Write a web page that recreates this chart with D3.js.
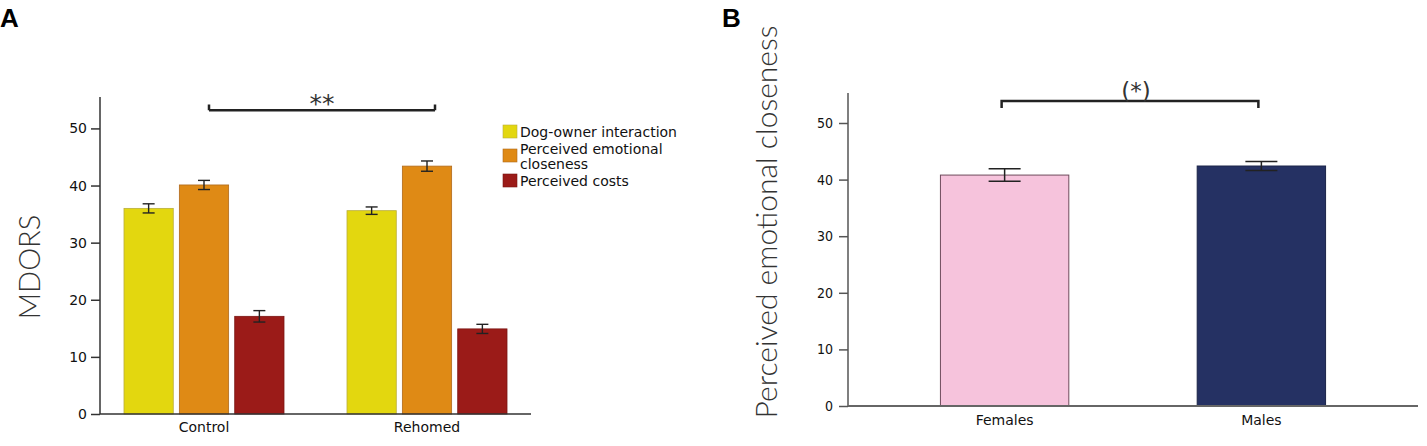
<!DOCTYPE html>
<html>
<head>
<meta charset="utf-8">
<script src="https://cdn.jsdelivr.net/npm/d3@7"></script>
<style>
  body { margin: 0; background: #fff; }
  svg { display: block; font-family: "DejaVu Sans", sans-serif; }
</style>
</head>
<body>
<svg width="1427" height="446"></svg>
<script>
// panel A data
let groupsA = ['Control', 'Rehomed'];
let seriesA = ['Dog-owner interaction', 'Perceived emotional closeness', 'Perceived costs'];
let dogOwner = [36.0, 35.6];
let emotional = [40.1, 43.4];
let costs = [17.1, 14.9];
let dogOwnerErr = [0.8, 0.65];
let emotionalErr = [0.8, 0.9];
let costsErr = [1.0, 0.8];
let ticksA = [0, 10, 20, 30, 40, 50];

// panel B data
let groupsB = ['Females', 'Males'];
let closeness = [40.8, 42.4];
let closenessErr = [1.1, 0.8];
let ticksB = [0, 10, 20, 30, 40, 50];

let colorsA = ['#e3d70f', '#df8a15', '#9b1b18'];
let strokesA = ['#b9ad3c', '#b06a1c', '#7a1512'];
let colorsB = ['#f6c3dc', '#253163'];

let svg = d3.select('svg');

// ---------- panel A ----------
let x0 = d3.scaleBand().domain(groupsA).range([100, 531]).paddingInner(0.2825).paddingOuter(0.1076);
let x1 = d3.scaleBand().domain(seriesA).range([0, x0.bandwidth()]).paddingInner(0.11);
let yA = d3.scaleLinear().domain([0, 55.5]).range([414, 97]);

let rowsA = [];
groupsA.forEach((g, i) => {
  [dogOwner, emotional, costs].forEach((arr, j) => {
    let errs = [dogOwnerErr, emotionalErr, costsErr][j];
    rowsA.push({ group: g, series: seriesA[j], value: arr[i], err: errs[i], k: j });
  });
});

let gA = svg.append('g');

gA.selectAll('rect.bar')
  .data(rowsA)
  .enter()
  .append('rect')
  .attr('class', 'bar')
  .attr('x', d => x0(d.group) + x1(d.series))
  .attr('y', d => yA(d.value))
  .attr('width', x1.bandwidth())
  .attr('height', d => yA(0) - yA(d.value))
  .attr('fill', d => colorsA[d.k])
  .attr('stroke', d => strokesA[d.k])
  .attr('stroke-width', 0.8);

let errA = gA.selectAll('g.err')
  .data(rowsA)
  .enter()
  .append('g')
  .attr('stroke', '#222')
  .attr('stroke-width', 1.4)
  .attr('transform', d => 'translate(' + (x0(d.group) + x1(d.series) + x1.bandwidth() / 2) + ',0)');
errA.append('line').attr('y1', d => yA(d.value + d.err)).attr('y2', d => yA(d.value - d.err));
errA.append('line').attr('x1', -6).attr('x2', 6).attr('y1', d => yA(d.value + d.err)).attr('y2', d => yA(d.value + d.err));
errA.append('line').attr('x1', -6).attr('x2', 6).attr('y1', d => yA(d.value - d.err)).attr('y2', d => yA(d.value - d.err));

let yAxisA = gA.append('g')
  .attr('transform', 'translate(100,0)')
  .call(d3.axisLeft(yA).tickValues(ticksA).tickSize(9).tickPadding(4));
yAxisA.select('.domain').attr('d', 'M0,' + yA(55.5) + 'V' + yA(0)).attr('stroke', '#333').attr('stroke-width', 1.5);
yAxisA.selectAll('.tick line').attr('stroke', '#333').attr('stroke-width', 1.5);
yAxisA.selectAll('.tick text').style('font-family', '"DejaVu Sans", sans-serif').style('font-size', '14px').attr('fill', '#111');

let xAxisA = gA.append('g')
  .attr('transform', 'translate(0,' + yA(0) + ')')
  .call(d3.axisBottom(x0).tickSize(0).tickPadding(8));
xAxisA.select('.domain').attr('d', 'M100,0H531').attr('stroke', '#333').attr('stroke-width', 1.5);
xAxisA.selectAll('.tick text').style('font-family', '"DejaVu Sans", sans-serif').style('font-size', '14px').attr('fill', '#111');

gA.append('text')
  .attr('transform', 'rotate(-90)')
  .attr('x', -267)
  .attr('y', 40)
  .style('text-anchor', 'middle')
  .style('font-family', 'Lato, "Open Sans", sans-serif')
  .style('font-weight', 300)
  .style('font-size', '29px')
  .attr('fill', '#333')
  .text('MDORS');

// significance bracket A
let bxA1 = x0('Control') + x0.bandwidth() / 2 + 5;
let bxA2 = x0('Rehomed') + x0.bandwidth() / 2 + 8;
gA.append('path')
  .attr('d', 'M' + bxA1 + ',' + yA(54.2) + 'V' + yA(53.2) + 'M' + bxA1 + ',' + yA(53.2) + 'H' + bxA2 + 'M' + bxA2 + ',' + yA(53.2) + 'V' + yA(54.2))
  .attr('fill', 'none')
  .attr('stroke', '#222')
  .attr('stroke-width', 2.5);
gA.append('text')
  .attr('x', (bxA1 + bxA2) / 2)
  .attr('y', 112)
  .style('text-anchor', 'middle')
  .style('font-size', '25px')
  .attr('fill', '#333')
  .text('**');

// legend
let legendLines = [['Dog-owner interaction'], ['Perceived emotional', 'closeness'], ['Perceived costs']];
let legendY = [125, 149, 174];
let leg = gA.selectAll('g.leg')
  .data(seriesA)
  .enter()
  .append('g')
  .attr('transform', (d, i) => 'translate(503,' + legendY[i] + ')');
leg.append('rect')
  .attr('width', 14)
  .attr('height', 13)
  .attr('fill', (d, i) => colorsA[i])
  .attr('stroke', (d, i) => strokesA[i])
  .attr('stroke-width', 0.6);
leg.append('text')
  .attr('x', 17)
  .attr('y', (d, i) => 12 - (legendLines[i].length - 1) * 7.5)
  .style('font-size', '14px')
  .attr('fill', '#111')
  .selectAll('tspan')
  .data((d, i) => legendLines[i])
  .enter()
  .append('tspan')
  .attr('x', 17)
  .attr('dy', (d, i) => i === 0 ? 0 : 15)
  .text(d => d);

// ---------- panel B ----------
let xB = d3.scaleBand().domain(groupsB).range([848, 1418]).paddingInner(0.5).paddingOuter(0.36);
let yB = d3.scaleLinear().domain([0, 55.3]).range([406, 93]);

let gB = svg.append('g');

gB.selectAll('rect')
  .data(groupsB)
  .enter()
  .append('rect')
  .attr('x', d => xB(d))
  .attr('y', (d, i) => yB(closeness[i]))
  .attr('width', xB.bandwidth())
  .attr('height', (d, i) => yB(0) - yB(closeness[i]))
  .attr('fill', (d, i) => colorsB[i])
  .attr('stroke', (d, i) => i === 0 ? '#6e4a5c' : '#1a2448')
  .attr('stroke-width', 1);

let errB = gB.selectAll('g.err')
  .data(groupsB)
  .enter()
  .append('g')
  .attr('stroke', '#222')
  .attr('stroke-width', 1.5)
  .attr('transform', d => 'translate(' + (xB(d) + xB.bandwidth() / 2) + ',0)');
errB.append('line').attr('y1', (d, i) => yB(closeness[i] + closenessErr[i])).attr('y2', (d, i) => yB(closeness[i] - closenessErr[i]));
errB.append('line').attr('x1', -16).attr('x2', 16).attr('y1', (d, i) => yB(closeness[i] + closenessErr[i])).attr('y2', (d, i) => yB(closeness[i] + closenessErr[i]));
errB.append('line').attr('x1', -16).attr('x2', 16).attr('y1', (d, i) => yB(closeness[i] - closenessErr[i])).attr('y2', (d, i) => yB(closeness[i] - closenessErr[i]));

let yAxisB = gB.append('g')
  .attr('transform', 'translate(848,0)')
  .call(d3.axisLeft(yB).tickValues(ticksB).tickSize(9).tickPadding(6));
yAxisB.select('.domain').attr('d', 'M0,' + yB(55.3) + 'V' + yB(0)).attr('stroke', '#555').attr('stroke-width', 1.5);
yAxisB.selectAll('.tick line').attr('stroke', '#555').attr('stroke-width', 1.5);
yAxisB.selectAll('.tick text').style('font-family', '"DejaVu Sans Condensed", "DejaVu Sans", sans-serif').style('font-size', '14px').attr('fill', '#111');

let xAxisB = gB.append('g')
  .attr('transform', 'translate(0,' + yB(0) + ')')
  .call(d3.axisBottom(xB).tickSize(0).tickPadding(9));
xAxisB.select('.domain').attr('d', 'M848,0H1418').attr('stroke', '#666').attr('stroke-width', 2);
xAxisB.selectAll('.tick text').style('font-family', '"DejaVu Sans", sans-serif').style('font-size', '14px').attr('fill', '#111');

gB.append('text')
  .attr('transform', 'rotate(-90)')
  .attr('x', -222)
  .attr('y', 777)
  .style('text-anchor', 'middle')
  .style('font-family', 'Lato, "Open Sans", sans-serif')
  .style('font-weight', 300)
  .style('font-size', '30px')
  .attr('fill', '#333')
  .text('Perceived emotional closeness');

let bxB1 = xB('Females') + xB.bandwidth() / 2 - 3;
let bxB2 = xB('Males') + xB.bandwidth() / 2 - 3;
gB.append('path')
  .attr('d', 'M' + bxB1 + ',' + 108 + 'V' + 101 + 'H' + bxB2 + 'V' + 108)
  .attr('fill', 'none')
  .attr('stroke', '#222')
  .attr('stroke-width', 2.5);
gB.append('text')
  .attr('x', (bxB1 + bxB2) / 2 + 6)
  .attr('y', 99)
  .style('text-anchor', 'middle')
  .style('font-size', '23px')
  .attr('fill', '#333')
  .text('(*)');

// panel letters
svg.append('text').attr('x', 0).attr('y', 27).style('font-family', '"Liberation Sans", Arial, sans-serif')
  .style('font-weight', 'bold').style('font-size', '26px').text('A');
svg.append('text').attr('x', 722).attr('y', 27).style('font-family', '"Liberation Sans", Arial, sans-serif')
  .style('font-weight', 'bold').style('font-size', '26px').text('B');
</script>
</body>
</html>
